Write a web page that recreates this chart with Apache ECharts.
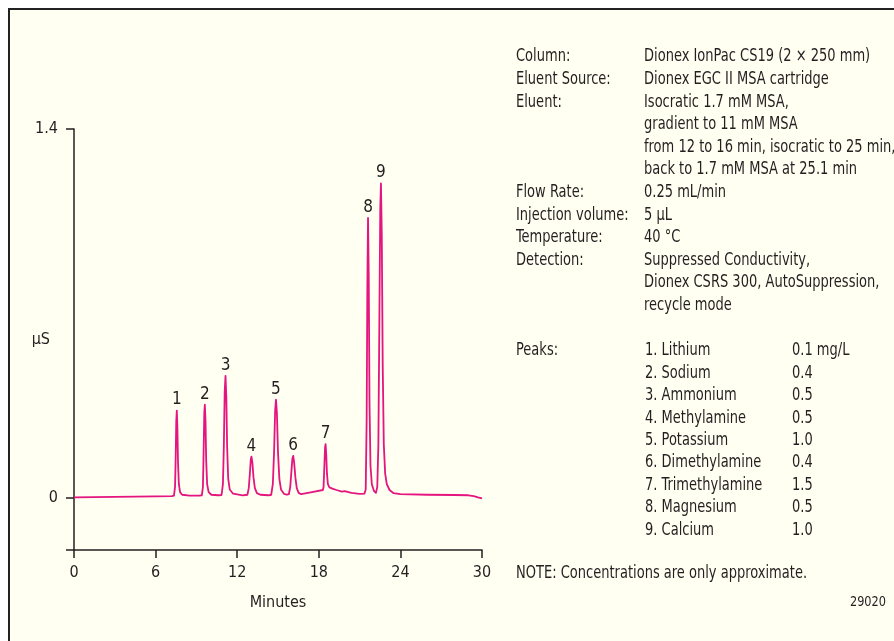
<!DOCTYPE html>
<html>
<head>
<meta charset="utf-8">
<script src="https://cdn.jsdelivr.net/npm/echarts@6/dist/echarts.min.js"></script>
<style>
  html, body { margin: 0; padding: 0; background: #fff; }
  #main { width: 894px; height: 641px; }
</style>
</head>
<body>
<div id="main"></div>
<script>
// chromatogram trace: [minutes, µS]
var trace = [
  [0, 0], [3, 0.002], [6, 0.004], [7.2, 0.005],
  [7.35, 0.007], [7.43, 0.04], [7.48, 0.16], [7.52, 0.29], [7.56, 0.33], [7.6, 0.27], [7.65, 0.13], [7.71, 0.05], [7.8, 0.02], [7.95, 0.01], [8.5, 0.007], [9.2, 0.007],
  [9.4, 0.008], [9.48, 0.04], [9.53, 0.17], [9.58, 0.32], [9.62, 0.352], [9.67, 0.29], [9.72, 0.14], [9.79, 0.05], [9.9, 0.02], [10.1, 0.01], [10.6, 0.008],
  [10.85, 0.009], [10.95, 0.05], [11.02, 0.2], [11.08, 0.4], [11.14, 0.462], [11.2, 0.38], [11.26, 0.19], [11.34, 0.07], [11.45, 0.03], [11.7, 0.014], [12.4, 0.008],
  [12.75, 0.01], [12.85, 0.035], [12.93, 0.09], [13.0, 0.145], [13.05, 0.155], [13.12, 0.13], [13.2, 0.075], [13.3, 0.035], [13.45, 0.016], [13.7, 0.01], [14.3, 0.008],
  [14.5, 0.01], [14.62, 0.05], [14.71, 0.17], [14.79, 0.33], [14.85, 0.371], [14.92, 0.32], [15.0, 0.17], [15.1, 0.07], [15.22, 0.03], [15.45, 0.013], [15.65, 0.01],
  [15.8, 0.012], [15.9, 0.04], [15.98, 0.095], [16.06, 0.148], [16.12, 0.158], [16.19, 0.13], [16.28, 0.075], [16.38, 0.035], [16.52, 0.017], [16.7, 0.012],
  [17.5, 0.02], [18.3, 0.028],
  [18.35, 0.04], [18.41, 0.12], [18.46, 0.19], [18.5, 0.202], [18.55, 0.16], [18.6, 0.09], [18.67, 0.05], [18.78, 0.038], [19.0, 0.033], [19.3, 0.028], [19.7, 0.022], [19.9, 0.024], [20.4, 0.017], [21.0, 0.013], [21.35, 0.014],
  [21.45, 0.03], [21.52, 0.3], [21.57, 0.8], [21.62, 1.062], [21.67, 0.85], [21.73, 0.35], [21.8, 0.12], [21.9, 0.05], [22.05, 0.025], [22.2, 0.017], [22.3, 0.04],
  [22.38, 0.2], [22.45, 0.65], [22.52, 1.1], [22.57, 1.193], [22.63, 1.0], [22.7, 0.5], [22.78, 0.2], [22.88, 0.09], [23.0, 0.05], [23.2, 0.028], [23.5, 0.016], [24.0, 0.012],
  [26, 0.01], [28, 0.009], [29.0, 0.008], [29.4, 0.005], [29.7, 0.0], [30, -0.004]
];

// peak labels
var peakNums = ['1', '2', '3', '4', '5', '6', '7', '8', '9'];
var peakTimes = [7.56, 9.62, 11.14, 13.05, 14.85, 16.12, 18.5, 21.62, 22.57];
var peakHeights = [0.33, 0.352, 0.462, 0.155, 0.371, 0.158, 0.202, 1.062, 1.193];

// axis ticks
var xTicks = [0, 6, 12, 18, 24, 30];
var yTicks = [-0.2, 0, 1.4];
var yTickLabels = [0, 1.4];

// conditions text
var infoKeys = ['Column:', 'Eluent Source:', 'Eluent:', '', '', '', 'Flow Rate:', 'Injection volume:', 'Temperature:', 'Detection:', '', ''];
var infoVals = ['Dionex IonPac CS19 (2 \u00d7 250 mm)', 'Dionex EGC II MSA cartridge', 'Isocratic 1.7 mM MSA,',
  'gradient to 11 mM MSA', 'from 12 to 16 min, isocratic to 25 min,', 'back to 1.7 mM MSA at 25.1 min',
  '0.25 mL/min', '5 \u00b5L', '40 \u00b0C', 'Suppressed Conductivity,', 'Dionex CSRS 300, AutoSuppression,', 'recycle mode'];
var peakNames = ['Lithium', 'Sodium', 'Ammonium', 'Methylamine', 'Potassium', 'Dimethylamine', 'Trimethylamine', 'Magnesium', 'Calcium'];
var peakConc = ['0.1 mg/L', '0.4', '0.5', '0.5', '1.0', '0.4', '1.5', '0.5', '1.0'];

var FONT = "'Liberation Sans Narrow', 'DejaVu Sans Condensed', 'Arial Narrow', sans-serif";
var INK = '#231f20';

var myChart = echarts.init(document.getElementById('main'));

var graphics = [
  {
    type: 'rect', z: -10,
    shape: { x: 9, y: 9, width: 900, height: 650 },
    style: { fill: '#fffff2', stroke: '#222', lineWidth: 2 }
  }
];
// text is squeezed a little to get the condensed look of the original
var txt = function (x, y, s, size, align, sx) {
  graphics.push({
    type: 'text', x: x, y: y, scaleX: sx || 0.852,
    style: { text: s, font: (size || 17) + 'px ' + FONT, fill: INK, align: align || 'left', verticalAlign: 'middle' }
  });
};
infoKeys.forEach(function (k, i) {
  var y = 57 + i * 22.6;
  if (k) txt(516, y, k);
  txt(644, y, infoVals[i]);
});
peakNames.forEach(function (n, i) {
  var y = 351 + i * 22.4;
  if (i === 0) txt(516, y, 'Peaks:');
  txt(645, y, (i + 1) + '. ' + n);
  txt(792, y, peakConc[i]);
});
txt(516, 574, 'NOTE: Concentrations are only approximate.');
txt(886, 602, '29020', 14, 'right', 0.9);

var option = {
  backgroundColor: '#fff',
  animation: false,
  graphic: graphics,
  grid: { left: 74, right: 412, top: 129, bottom: 91 },
  xAxis: {
    type: 'value', min: 0, max: 30, interval: 6,
    name: 'Minutes', nameLocation: 'middle', nameGap: 45,
    nameTextStyle: { fontFamily: FONT, fontSize: 16, color: INK },
    axisLine: { onZero: false, lineStyle: { color: INK, width: 1.5 } },
    axisTick: { length: 8, lineStyle: { color: INK, width: 1.5 }, customValues: xTicks },
    axisLabel: { margin: 15, fontFamily: FONT, fontSize: 16, color: INK, customValues: xTicks },
    splitLine: { show: false }
  },
  yAxis: {
    type: 'value', min: -0.2, max: 1.4,
    name: '\u00b5S', nameLocation: 'middle', nameRotate: 0, nameGap: 24, nameMoveOverlap: false,
    nameTextStyle: { fontFamily: FONT, fontSize: 16, color: INK },
    axisLine: { show: true, onZero: false, lineStyle: { color: INK, width: 1.5 } },
    axisTick: { show: true, length: 8, lineStyle: { color: INK, width: 1.5 }, customValues: yTicks },
    axisLabel: { margin: 16, fontFamily: FONT, fontSize: 16, color: INK, customValues: yTickLabels },
    splitLine: { show: false }
  },
  series: [
    {
      type: 'line',
      data: trace,
      showSymbol: false,
      smooth: false,
      lineStyle: { color: '#e5147f', width: 1.8, join: 'round' }
    },
    {
      type: 'scatter',
      symbolSize: 0,
      itemStyle: { opacity: 1 },
      data: peakTimes.map(function (t, i) { return [t, peakHeights[i]]; }),
      label: {
        show: true, position: 'top', distance: 2,
        fontFamily: FONT, fontSize: 17, color: INK,
        formatter: function (p) { return peakNums[p.dataIndex]; }
      }
    }
  ]
};

myChart.setOption(option);
window.addEventListener('resize', function () { myChart.resize(); });
</script>
</body>
</html>
